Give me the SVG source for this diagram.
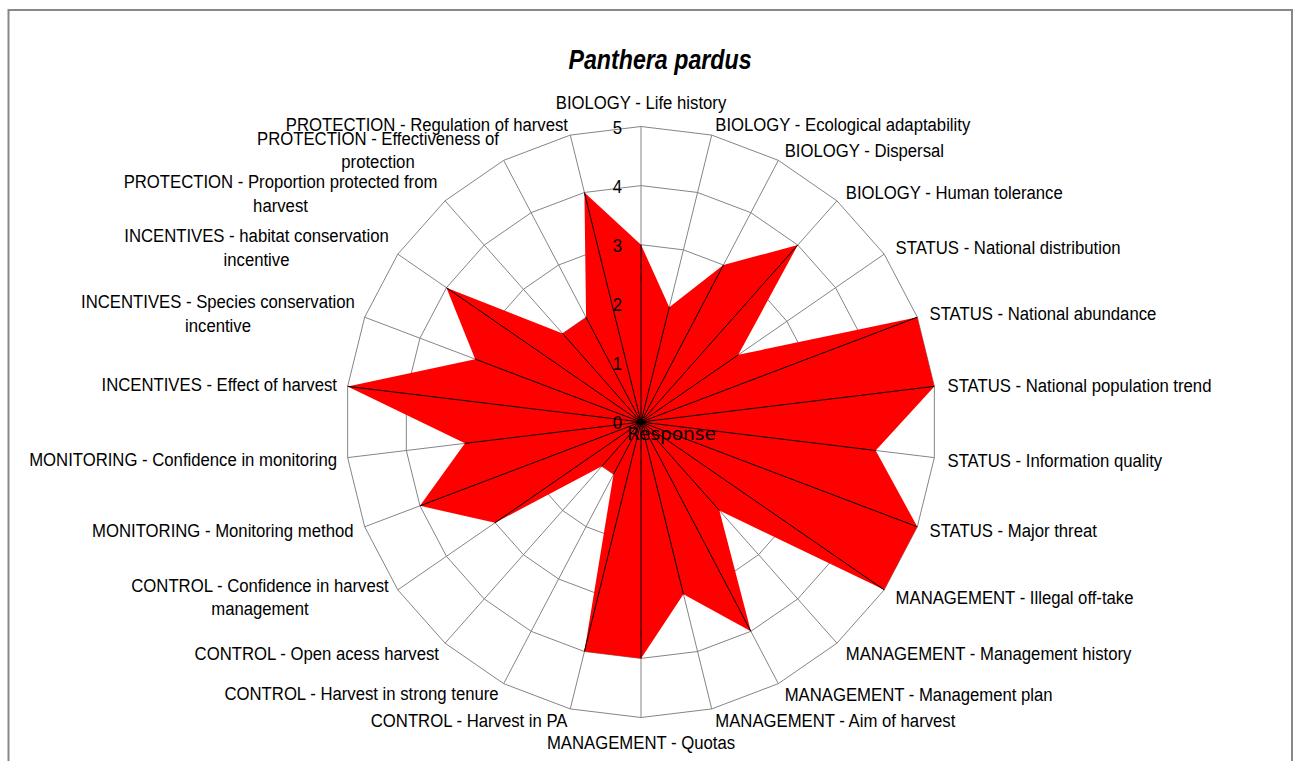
<svg xmlns="http://www.w3.org/2000/svg" xmlns:xlink="http://www.w3.org/1999/xlink" width="1295" height="761" viewBox="0 0 1295 761">
<style>
.lbl{font-family:"Liberation Sans",Arial,sans-serif;font-size:19px;fill:#000}
.e{text-anchor:end}
.m{text-anchor:middle}
.ring{fill:none;stroke:#858585;stroke-width:1;vector-effect:non-scaling-stroke}
.spoke{stroke:#858585;stroke-width:1}
.dline{stroke:#000;stroke-width:1}
</style>
<defs>
<polygon id="ring5" class="ring" points="0,-295.5 70.72,-286.91 137.33,-261.65 195.95,-221.18 243.19,-167.86 276.30,-104.78 293.35,-35.62 293.35,35.62 276.30,104.78 243.19,167.86 195.95,221.18 137.33,261.65 70.72,286.91 0,295.5 -70.72,286.91 -137.33,261.65 -195.95,221.18 -243.19,167.86 -276.30,104.78 -293.35,35.62 -293.35,-35.62 -276.30,-104.78 -243.19,-167.86 -195.95,-221.18 -137.33,-261.65 -70.72,-286.91"/>
</defs>
<rect x="0" y="0" width="1295" height="761" fill="#fff"/>
<rect id="frame" x="8.5" y="10" width="1283.5" height="800" fill="none" stroke="#888" stroke-width="2"/>
<text id="title" class="lbl m" transform="translate(660,69) scale(0.86,1)" style="font-size:27px;font-weight:bold;font-style:italic">Panthera pardus</text>
<g id="grid" transform="translate(641,422)">
<use xlink:href="#ring5" href="#ring5" transform="scale(0.2)"/>
<use xlink:href="#ring5" href="#ring5" transform="scale(0.4)"/>
<use xlink:href="#ring5" href="#ring5" transform="scale(0.6)"/>
<use xlink:href="#ring5" href="#ring5" transform="scale(0.8)"/>
<use xlink:href="#ring5" href="#ring5"/>
<g class="spoke">
<line x1="0" y1="0" x2="0" y2="-295.5"/><line x1="0" y1="0" x2="70.72" y2="-286.91"/><line x1="0" y1="0" x2="137.33" y2="-261.65"/><line x1="0" y1="0" x2="195.95" y2="-221.18"/><line x1="0" y1="0" x2="243.19" y2="-167.86"/><line x1="0" y1="0" x2="276.30" y2="-104.78"/><line x1="0" y1="0" x2="293.35" y2="-35.62"/><line x1="0" y1="0" x2="293.35" y2="35.62"/><line x1="0" y1="0" x2="276.30" y2="104.78"/><line x1="0" y1="0" x2="243.19" y2="167.86"/><line x1="0" y1="0" x2="195.95" y2="221.18"/><line x1="0" y1="0" x2="137.33" y2="261.65"/><line x1="0" y1="0" x2="70.72" y2="286.91"/><line x1="0" y1="0" x2="0" y2="295.5"/><line x1="0" y1="0" x2="-70.72" y2="286.91"/><line x1="0" y1="0" x2="-137.33" y2="261.65"/><line x1="0" y1="0" x2="-195.95" y2="221.18"/><line x1="0" y1="0" x2="-243.19" y2="167.86"/><line x1="0" y1="0" x2="-276.30" y2="104.78"/><line x1="0" y1="0" x2="-293.35" y2="35.62"/><line x1="0" y1="0" x2="-293.35" y2="-35.62"/><line x1="0" y1="0" x2="-276.30" y2="-104.78"/><line x1="0" y1="0" x2="-243.19" y2="-167.86"/><line x1="0" y1="0" x2="-195.95" y2="-221.18"/><line x1="0" y1="0" x2="-137.33" y2="-261.65"/><line x1="0" y1="0" x2="-70.72" y2="-286.91"/>
</g>
</g>
<g id="series" transform="translate(641,422)">
<polygon fill="#ff0000" points="0,-177.3 28.29,-114.76 82.40,-156.99 156.76,-176.94 97.28,-67.14 276.30,-104.78 293.35,-35.62 234.68,28.50 276.30,104.78 243.19,167.86 78.38,88.47 109.86,209.32 42.43,172.15 0,236.4 -56.58,229.53 -27.47,52.33 -39.19,44.24 -145.91,100.72 -221.04,83.82 -176.01,21.37 -293.35,-35.62 -165.78,-62.87 -194.55,-134.29 -78.38,-88.47 -54.93,-104.66 -56.58,-229.53"/>
<g class="dline">
<line x1="0" y1="0" x2="0" y2="-177.3"/><line x1="0" y1="0" x2="28.29" y2="-114.76"/><line x1="0" y1="0" x2="82.40" y2="-156.99"/><line x1="0" y1="0" x2="156.76" y2="-176.94"/><line x1="0" y1="0" x2="97.28" y2="-67.14"/><line x1="0" y1="0" x2="276.30" y2="-104.78"/><line x1="0" y1="0" x2="293.35" y2="-35.62"/><line x1="0" y1="0" x2="234.68" y2="28.50"/><line x1="0" y1="0" x2="276.30" y2="104.78"/><line x1="0" y1="0" x2="243.19" y2="167.86"/><line x1="0" y1="0" x2="78.38" y2="88.47"/><line x1="0" y1="0" x2="109.86" y2="209.32"/><line x1="0" y1="0" x2="42.43" y2="172.15"/><line x1="0" y1="0" x2="0" y2="236.4"/><line x1="0" y1="0" x2="-56.58" y2="229.53"/><line x1="0" y1="0" x2="-27.47" y2="52.33"/><line x1="0" y1="0" x2="-39.19" y2="44.24"/><line x1="0" y1="0" x2="-145.91" y2="100.72"/><line x1="0" y1="0" x2="-221.04" y2="83.82"/><line x1="0" y1="0" x2="-176.01" y2="21.37"/><line x1="0" y1="0" x2="-293.35" y2="-35.62"/><line x1="0" y1="0" x2="-165.78" y2="-62.87"/><line x1="0" y1="0" x2="-194.55" y2="-134.29"/><line x1="0" y1="0" x2="-78.38" y2="-88.47"/><line x1="0" y1="0" x2="-54.93" y2="-104.66"/><line x1="0" y1="0" x2="-56.58" y2="-229.53"/>
</g>
<circle cx="0" cy="0" r="3" fill="#000"/>
</g>
<g id="ticks">
<text class="lbl e" transform="translate(622,133.5) scale(0.88,1)">5</text>
<text class="lbl e" transform="translate(622,192.6) scale(0.88,1)">4</text>
<text class="lbl e" transform="translate(622,251.7) scale(0.88,1)">3</text>
<text class="lbl e" transform="translate(622,310.8) scale(0.88,1)">2</text>
<text class="lbl e" transform="translate(622,369.9) scale(0.88,1)">1</text>
<text class="lbl e" transform="translate(622,429) scale(0.88,1)">0</text>
</g>
<text id="response" x="627" y="440" style="font-family:'DejaVu Sans',sans-serif;font-size:18.5px;fill:#000">Response</text>
<g id="labels">
<g id="l00"><text class="lbl m" transform="translate(641,108.5) scale(0.88,1)">BIOLOGY - Life history</text></g>
<g id="l01"><text class="lbl" transform="translate(715.3,130.5) scale(0.88,1)">BIOLOGY - Ecological adaptability</text></g>
<g id="l02"><text class="lbl" transform="translate(784.7,157) scale(0.88,1)">BIOLOGY - Dispersal</text></g>
<g id="l03"><text class="lbl" transform="translate(845.8,198.5) scale(0.88,1)">BIOLOGY - Human tolerance</text></g>
<g id="l04"><text class="lbl" transform="translate(895.6,253.5) scale(0.88,1)">STATUS - National distribution</text></g>
<g id="l05"><text class="lbl" transform="translate(929.5,319.5) scale(0.88,1)">STATUS - National abundance</text></g>
<g id="l06"><text class="lbl" transform="translate(947.5,391.5) scale(0.88,1)">STATUS - National population trend</text></g>
<g id="l07"><text class="lbl" transform="translate(947.5,466.5) scale(0.88,1)">STATUS - Information quality</text></g>
<g id="l08"><text class="lbl" transform="translate(929.5,537) scale(0.88,1)">STATUS - Major threat</text></g>
<g id="l09"><text class="lbl" transform="translate(895.6,603.5) scale(0.88,1)">MANAGEMENT - Illegal off-take</text></g>
<g id="l10"><text class="lbl" transform="translate(845.8,660) scale(0.88,1)">MANAGEMENT - Management history</text></g>
<g id="l11"><text class="lbl" transform="translate(784.7,700.5) scale(0.88,1)">MANAGEMENT - Management plan</text></g>
<g id="l12"><text class="lbl" transform="translate(715.3,727) scale(0.88,1)">MANAGEMENT - Aim of harvest</text></g>
<g id="l13"><text class="lbl m" transform="translate(641,749) scale(0.88,1)">MANAGEMENT - Quotas</text></g>
<g id="l14"><text class="lbl e" transform="translate(567.5,726.5) scale(0.88,1)">CONTROL - Harvest in PA</text></g>
<g id="l15"><text class="lbl e" transform="translate(498.6,700) scale(0.88,1)">CONTROL - Harvest in strong tenure</text></g>
<g id="l16"><text class="lbl e" transform="translate(439,660) scale(0.88,1)">CONTROL - Open acess harvest</text></g>
<g id="l17"><text class="lbl m" transform="translate(260,591.5) scale(0.88,1)">CONTROL - Confidence in harvest</text><text class="lbl m" transform="translate(260,614.8) scale(0.88,1)">management</text></g>
<g id="l18"><text class="lbl e" transform="translate(353.5,536.7) scale(0.88,1)">MONITORING - Monitoring method</text></g>
<g id="l19"><text class="lbl e" transform="translate(337,466) scale(0.88,1)">MONITORING - Confidence in monitoring</text></g>
<g id="l20"><text class="lbl e" transform="translate(337,391) scale(0.88,1)">INCENTIVES - Effect of harvest</text></g>
<g id="l21"><text class="lbl m" transform="translate(218,308.3) scale(0.88,1)">INCENTIVES - Species conservation</text><text class="lbl m" transform="translate(218,331.7) scale(0.88,1)">incentive</text></g>
<g id="l22"><text class="lbl m" transform="translate(256.5,242.3) scale(0.88,1)">INCENTIVES - habitat conservation</text><text class="lbl m" transform="translate(256.5,265.7) scale(0.88,1)">incentive</text></g>
<g id="l23"><text class="lbl m" transform="translate(280.5,188.3) scale(0.88,1)">PROTECTION - Proportion protected from</text><text class="lbl m" transform="translate(280.5,211.5) scale(0.88,1)">harvest</text></g>
<g id="l24"><text class="lbl m" transform="translate(378,145) scale(0.88,1)">PROTECTION - Effectiveness of</text><text class="lbl m" transform="translate(378,168.3) scale(0.88,1)">protection</text></g>
<g id="l25"><text class="lbl e" transform="translate(568,130.5) scale(0.88,1)">PROTECTION - Regulation of harvest</text></g>
</g>
</svg>
